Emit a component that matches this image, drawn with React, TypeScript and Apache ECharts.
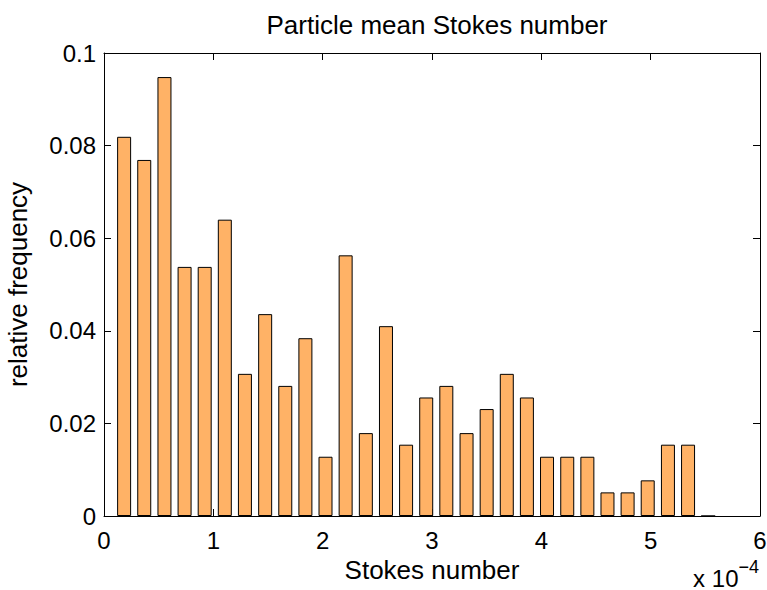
import React, { useEffect, useRef } from "react";
import * as echarts from "echarts";

// Bin centres (Stokes number, units of 1e-4)
const binCenters = [
  0.184, 0.368, 0.553, 0.737, 0.921, 1.105, 1.289, 1.474, 1.658, 1.842,
  2.026, 2.21, 2.395, 2.579, 2.763, 2.947, 3.131, 3.316, 3.5, 3.684,
  3.868, 4.052, 4.237, 4.421, 4.605, 4.789, 4.973, 5.158, 5.342, 5.526,
];
// Relative frequency per bin
const frequencies = [
  0.0819, 0.0769, 0.0948, 0.0538, 0.0538, 0.064, 0.0307, 0.0436, 0.0281, 0.0384,
  0.0128, 0.0563, 0.0179, 0.041, 0.0154, 0.0256, 0.0281, 0.0179, 0.0231, 0.0307,
  0.0256, 0.0128, 0.0128, 0.0128, 0.0051, 0.0051, 0.0077, 0.0154, 0.0154, 0,
];
const xTicks = [0, 1, 2, 3, 4, 5, 6];
const yTicks = [0, 0.02, 0.04, 0.06, 0.08, 0.1];

const FONT = "'Liberation Sans', Arial, Helvetica, sans-serif";

export default function App() {
  const ref = useRef<HTMLDivElement>(null);
  useEffect(() => {
    if (!ref.current) return;
    const chart = echarts.init(ref.current, undefined, { renderer: "svg" });
    const data = binCenters.map((x, i) => [x, frequencies[i]]);
    const axisLine = { show: true, onZero: false, lineStyle: { color: "#000", width: 1 } };
    const tick = { show: true, inside: true, length: 7, lineStyle: { color: "#000" } };
    chart.setOption({
      animation: false,
      backgroundColor: "#fff",
      textStyle: { fontFamily: FONT },
      title: {
        text: "Particle mean Stokes number",
        left: 432,
        textAlign: "center",
        top: 7,
        textStyle: { fontFamily: FONT, fontSize: 26, fontWeight: "normal", color: "#000" },
      },
      grid: {
        left: 104,
        right: 7,
        top: 53,
        bottom: 74,
        containLabel: false,
        outerBoundsMode: "none",
      },
      xAxis: [
        {
          type: "value",
          position: "bottom",
          min: xTicks[0],
          max: xTicks[xTicks.length - 1],
          interval: 1,
          axisLine,
          axisTick: tick,
          splitLine: { show: false },
          axisLabel: {
            show: true,
            showMinLabel: true,
            showMaxLabel: true,
            fontSize: 24,
            color: "#000",
            fontFamily: FONT,
            margin: 12,
          },
          name: "Stokes number",
          nameLocation: "middle",
          nameGap: 40,
          nameTextStyle: { fontSize: 26, color: "#000", fontFamily: FONT },
        },
        {
          type: "value",
          position: "top",
          min: xTicks[0],
          max: xTicks[xTicks.length - 1],
          interval: 1,
          axisLine,
          axisTick: tick,
          splitLine: { show: false },
          axisLabel: { show: false },
        },
      ],
      yAxis: [
        {
          type: "value",
          position: "left",
          min: yTicks[0],
          max: yTicks[yTicks.length - 1],
          interval: 0.02,
          axisLine,
          axisTick: tick,
          splitLine: { show: false },
          axisLabel: {
            show: true,
            showMinLabel: true,
            showMaxLabel: true,
            fontSize: 24,
            color: "#000",
            fontFamily: FONT,
            margin: 8,
          },
          name: "relative frequency",
          nameLocation: "middle",
          nameGap: 73,
          nameTextStyle: { fontSize: 26, color: "#000", fontFamily: FONT },
        },
        {
          type: "value",
          position: "right",
          min: yTicks[0],
          max: yTicks[yTicks.length - 1],
          interval: 0.02,
          axisLine,
          axisTick: tick,
          splitLine: { show: false },
          axisLabel: { show: false },
        },
      ],
      graphic: [
        {
          type: "text",
          right: 8,
          top: 558,
          style: {
            text: "{a|x 10}{b|−4}",
            rich: {
              a: { fontSize: 24, fontFamily: FONT, fill: "#000", verticalAlign: "bottom", lineHeight: 28 },
              b: { fontSize: 18, fontFamily: FONT, fill: "#000", verticalAlign: "top", padding: [0, 0, 14, 0] },
            },
          },
        },
      ],
      series: [
        {
          type: "bar",
          xAxisIndex: 0,
          yAxisIndex: 0,
          data,
          barWidth: 14,
          itemStyle: { color: "#FFB266", borderColor: "#000", borderWidth: 1 },
        },
      ],
    });
    return () => chart.dispose();
  }, []);
  return (
    <div
      ref={ref}
      style={{ position: "fixed", left: 0, top: 0, width: 767, height: 590 }}
    />
  );
}
